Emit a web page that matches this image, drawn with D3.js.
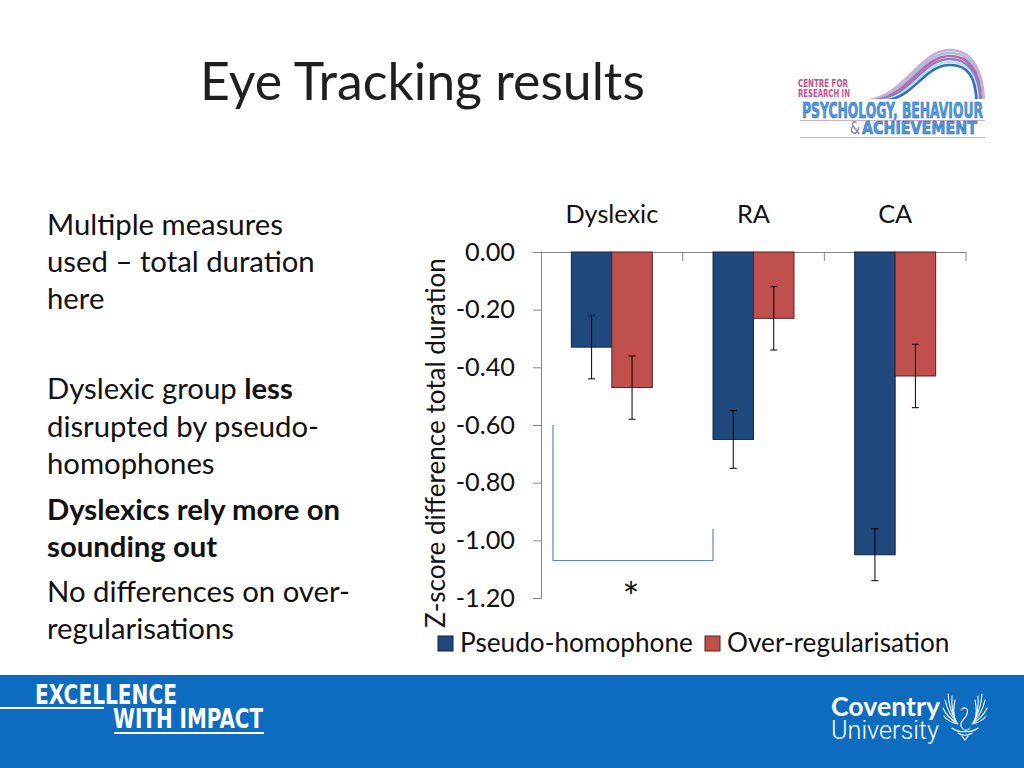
<!DOCTYPE html>
<html><head><meta charset="utf-8">
<script src="https://cdn.jsdelivr.net/npm/d3@7"></script>
<style>html,body{margin:0;padding:0;background:#fff;}svg{display:block;}</style>
</head><body>
<svg id="c" width="1024" height="768"></svg>
<script>
// ---- data ----
const groups = ["Dyslexic", "RA", "CA"];
const seriesNames = ["Pseudo-homophone", "Over-regularisation"];
const pseudoHomophone = [-0.33, -0.65, -1.05];
const overRegularisation = [-0.47, -0.23, -0.43];
const pseudoHomophoneErr = [0.11, 0.10, 0.09];
const overRegularisationErr = [0.11, 0.11, 0.11];
const yTickValues = [0, -0.2, -0.4, -0.6, -0.8, -1.0, -1.2];
const yTickLabels = ["0.00", "-0.20", "-0.40", "-0.60", "-0.80", "-1.00", "-1.20"];
const yTitle = "Z-score difference total duration";
const bracketLevels = [-0.60, -1.07, -0.96]; // left top, bottom, right top
const significanceMark = "*";
const seriesColors = ["#1f497d", "#c0504d"];
const seriesStroke = ["#0f2540", "#5a2220"];

const FONT = "Lato, Calibri, 'Open Sans', sans-serif";
const svg = d3.select("#c");

function fit(sel, target) {
  const w = sel.node().getComputedTextLength();
  const fs = parseFloat(sel.attr("font-size"));
  const nfs = fs * target / w;
  sel.attr("font-size", nfs);
  return nfs;
}
// condensed bold text: set cap height, squeeze horizontally to target width
function condensed(parent, x, y, str, capH, targetW, fill, stroke, weight) {
  const t = parent.append("text").attr("font-family", "'DejaVu Sans', sans-serif")
    .attr("font-weight", weight || "bold").attr("font-size", capH / 0.729).attr("fill", fill).text(str);
  if (stroke) t.attr("stroke", stroke).attr("stroke-width", 0.6);
  const w = t.node().getComputedTextLength();
  t.attr("transform", `translate(${x},${y}) scale(${targetW / w},1)`);
  return t;
}

// ---- title ----
const title = svg.append("text").attr("x", 200).attr("y", 100)
  .attr("font-family", FONT).attr("font-size", 50).attr("fill", "#1f1f1f")
  .text("Eye Tracking results");
fit(title, 445);

// ---- left bullet text ----
const lines = [
  {t: [["Multiple measures", 0]], y: 235},
  {t: [["used \u2013 total duration", 0]], y: 272},
  {t: [["here", 0]], y: 309},
  {t: [["Dyslexic group ", 0], ["less", 1]], y: 399},
  {t: [["disrupted by pseudo-", 0]], y: 437},
  {t: [["homophones", 0]], y: 474},
  {t: [["Dyslexics rely more on", 1]], y: 520},
  {t: [["sounding out", 1]], y: 557},
  {t: [["No differences on over-", 0]], y: 602},
  {t: [["regularisations", 0]], y: 639}
];
const probe = svg.append("text").attr("font-family", FONT).attr("font-size", 26).text("Multiple measures");
const leftFs = fit(probe, 236);
probe.remove();
lines.forEach(l => {
  const tx = svg.append("text").attr("x", 47).attr("y", l.y)
    .attr("font-family", FONT).attr("font-size", leftFs).attr("fill", "#111");
  l.t.forEach(p => tx.append("tspan").attr("font-weight", p[1] ? "bold" : "normal").text(p[0]));
});

// ---- chart ----
const x0 = d3.scaleBand().domain(groups).range([541, 966]).paddingInner(0).paddingOuter(0);
const x1 = d3.scaleBand().domain(seriesNames).range([0, x0.bandwidth()]).paddingInner(0).paddingOuter(0.75);
const y = d3.scaleLinear().domain([-1.2, 0]).range([598, 252]);

const axisColor = "#868686";
const gY = svg.append("g").attr("transform", "translate(541,0)")
  .call(d3.axisLeft(y).tickValues(yTickValues).tickSize(8).tickPadding(18)
    .tickFormat((d, i) => yTickLabels[i]));
gY.select(".domain").attr("stroke", axisColor);
gY.selectAll(".tick line").attr("stroke", axisColor);
const yTickText = gY.selectAll(".tick text").attr("font-family", FONT).attr("font-size", 22).attr("fill", "#111");
const yfs = fit(gY.select(".tick text"), 50);
yTickText.attr("font-size", yfs);

// category axis at zero (top)
const gX = svg.append("g").attr("transform", `translate(0,${y(0)})`)
  .call(d3.axisTop(x0).tickSize(0).tickPadding(29));
gX.select(".domain").attr("stroke", axisColor).attr("d", `M533,0.5H${x0.range()[1]}`);
gX.selectAll(".tick text").attr("font-family", FONT).attr("font-size", yfs).attr("fill", "#111");
svg.append("g").selectAll("line").data(groups).join("line")
  .attr("x1", d => x0(d) + x0.bandwidth()).attr("x2", d => x0(d) + x0.bandwidth())
  .attr("y1", y(0)).attr("y2", y(0) + 9).attr("stroke", axisColor);

// bars
const rows = groups.map((g, i) => ({
  g, vals: [
    {s: seriesNames[0], v: pseudoHomophone[i], e: pseudoHomophoneErr[i], k: 0},
    {s: seriesNames[1], v: overRegularisation[i], e: overRegularisationErr[i], k: 1}
  ]
}));
const gg = svg.append("g").selectAll("g").data(rows).join("g")
  .attr("transform", d => `translate(${x0(d.g)},0)`);
gg.selectAll("rect").data(d => d.vals).join("rect")
  .attr("x", d => x1(d.s)).attr("width", x1.bandwidth())
  .attr("y", d => y(0)).attr("height", d => y(d.v) - y(0))
  .attr("fill", d => seriesColors[d.k]).attr("stroke", d => seriesStroke[d.k]).attr("stroke-width", 1);

// error bars
const eb = gg.selectAll("g.eb").data(d => d.vals).join("g").attr("class", "eb");
eb.append("line").attr("x1", d => x1(d.s) + x1.bandwidth() / 2).attr("x2", d => x1(d.s) + x1.bandwidth() / 2)
  .attr("y1", d => y(d.v + d.e)).attr("y2", d => y(d.v - d.e)).attr("stroke", "#000");
[1, -1].forEach(sg => {
  eb.append("line").attr("x1", d => x1(d.s) + x1.bandwidth() / 2 - 3.5).attr("x2", d => x1(d.s) + x1.bandwidth() / 2 + 3.5)
    .attr("y1", d => y(d.v + sg * d.e)).attr("y2", d => y(d.v + sg * d.e)).attr("stroke", "#000");
});

// significance bracket
const bx0 = x0(groups[0]) + 12;
const bx1 = x0(groups[1]) + x1(seriesNames[0]);
svg.append("path")
  .attr("d", `M${bx0},${y(bracketLevels[0])}V${y(bracketLevels[1])}H${bx1}V${y(bracketLevels[2])}`)
  .attr("fill", "none").attr("stroke", "#5b87c3").attr("stroke-width", 1.2);
svg.append("text").attr("x", (bx0 + bx1) / 2 - 2).attr("y", y(bracketLevels[1]) + 51)
  .attr("text-anchor", "middle").attr("font-family", FONT).attr("font-size", 40).attr("fill", "#111")
  .text(significanceMark);

// y title
const yt = svg.append("text").attr("transform", "translate(445,443) rotate(-90)")
  .attr("text-anchor", "middle").attr("font-family", FONT).attr("font-size", 22).attr("fill", "#111")
  .text(yTitle);
fit(yt, 370);

// legend
const legX = [438, 705];
const lg = svg.append("g").selectAll("g").data(seriesNames).join("g")
  .attr("transform", (d, i) => `translate(${legX[i]},636)`);
lg.append("rect").attr("width", 15).attr("height", 15)
  .attr("fill", (d, i) => seriesColors[i]).attr("stroke", (d, i) => seriesStroke[i]);
const lt = lg.append("text").attr("x", 22).attr("y", 16).attr("font-family", FONT).attr("font-size", 24).attr("fill", "#111")
  .text(d => d);
const lfs = fit(d3.select(lt.nodes()[0]), 233);
lt.attr("font-size", lfs);

// ---- top-right logo ----
const logo = svg.append("g");
const arcColors = ["#d7a8cf", "#9cc3e8", "#cf5f9f", "#7e86c8", "#c2dbf0", "#2c73b9"];
arcColors.forEach((c, k) => {
  logo.append("path")
    .attr("d", `M${862 + k * 4},101 C${905 + k * 2},99 ${918 + k},${50 + k * 3} ${950},${50 + k * 3} C${973 - k},${50 + k * 3} ${983 - k * 1.5},${72 + k} ${984 - k * 1.5},101`)
    .attr("fill", "none").attr("stroke", c).attr("stroke-width", 2.6);
});
logo.append("rect").attr("x", 796).attr("y", 99).attr("width", 194).attr("height", 42).attr("fill", "#fff");
condensed(logo, 798, 87, "CENTRE FOR", 8, 50, "#c4508c");
condensed(logo, 798, 97, "RESEARCH IN", 8, 52, "#c4508c");
condensed(logo, 802, 118, "PSYCHOLOGY, BEHAVIOUR", 16, 181, "#4f9be0", "#1d62ae");
logo.append("line").attr("x1", 800).attr("x2", 985).attr("y1", 120.5).attr("y2", 120.5).attr("stroke", "#e6a6c8").attr("stroke-width", 1.2);
condensed(logo, 850, 134, "&", 13, 10, "#7d7fa8", null, "normal");
condensed(logo, 862, 134, "ACHIEVEMENT", 13, 115, "#4f9be0", "#1d62ae");
logo.append("line").attr("x1", 800).attr("x2", 985).attr("y1", 137.5).attr("y2", 137.5).attr("stroke", "#e6a6c8").attr("stroke-width", 1.2);

// ---- bottom banner ----
const bn = svg.append("g");
bn.append("rect").attr("x", 0).attr("y", 675).attr("width", 1024).attr("height", 93).attr("fill", "#0d6cbf");
condensed(bn, 35, 704, "EXCELLENCE", 19, 142, "#fff");
condensed(bn, 113, 728, "WITH IMPACT", 19, 150, "#fff");
bn.append("line").attr("x1", 0).attr("x2", 104).attr("y1", 708).attr("y2", 708).attr("stroke", "#fff").attr("stroke-width", 2);
bn.append("line").attr("x1", 114).attr("x2", 264).attr("y1", 733).attr("y2", 733).attr("stroke", "#fff").attr("stroke-width", 2);
const cv = bn.append("text").attr("x", 831).attr("y", 716).attr("font-family", FONT).attr("font-weight", "bold")
  .attr("font-size", 28).attr("fill", "#fff").text("Coventry");
fit(cv, 109);
const un = bn.append("text").attr("x", 831).attr("y", 739).attr("font-family", "Roboto, " + FONT).attr("font-weight", 300)
  .attr("font-size", 26).attr("fill", "#fff").text("University");
fit(un, 108);
// phoenix emblem
const ph = bn.append("g").attr("fill", "none").attr("stroke", "#fff").attr("stroke-width", 1.1).attr("stroke-linecap", "round");
const featherTips = [[944, 716], [943, 708], [945, 700], [948, 694], [952, 696], [955, 700]];
featherTips.forEach(([tx, ty], k) => {
  const bxL = 958 - k * 0.5, byL = 724 - k * 0.6;
  ph.append("path").attr("d", `M${bxL},${byL}Q${(bxL + tx) / 2 - 3},${(byL + ty) / 2 + 2} ${tx},${ty}`);
  const bxR = 1930 - bxL, txR = 1930 - tx;
  ph.append("path").attr("d", `M${bxR},${byL}Q${(bxR + txR) / 2 + 3},${(byL + ty) / 2 + 2} ${txR},${ty}`);
});
ph.append("path").attr("d", "M961,710C964,706 969,708 967,714C965,720 958,722 962,728C964,731 968,731 970,728");
ph.append("path").attr("d", "M952,728C958,733 972,733 978,728");
ph.append("path").attr("d", "M958,733C962,736 968,736 972,733");
ph.append("path").attr("d", "M962,736L965,740L968,736");
</script>
</body></html>
